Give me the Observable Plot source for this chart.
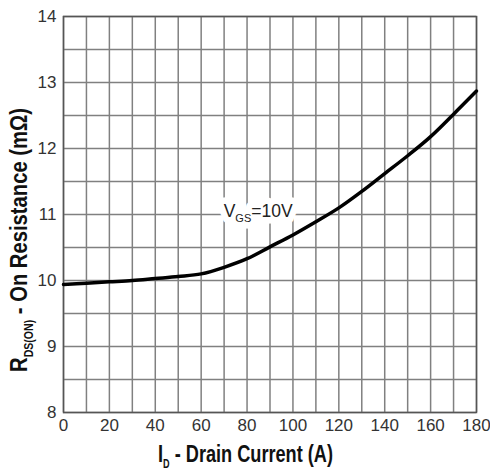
<!DOCTYPE html>
<html><head><meta charset="utf-8">
<script src="https://cdn.jsdelivr.net/npm/d3@7"></script>
<script src="https://cdn.jsdelivr.net/npm/@observablehq/plot@0.6"></script>
<style>
html,body{margin:0;padding:0;background:#fff;}
#chart svg{display:block;}
</style>
</head><body><div id="chart"></div>
<script>
// Drain current (A) and on-resistance (mΩ)
const current    = [0, 10, 20, 30, 40, 50, 60, 70, 80, 90, 100, 110, 120, 130, 140, 150, 160, 170, 180];
const resistance = [9.94, 9.96, 9.98, 10.0, 10.03, 10.06, 10.1, 10.2, 10.33, 10.51, 10.69, 10.89, 11.1, 11.35, 11.62, 11.89, 12.18, 12.52, 12.87];

const xTicks = [0, 20, 40, 60, 80, 100, 120, 140, 160, 180];
const yTicks = [8, 9, 10, 11, 12, 13, 14];
const xGrid  = [0, 10, 20, 30, 40, 50, 60, 70, 80, 90, 100, 110, 120, 130, 140, 150, 160, 170, 180];
const yGrid  = [8, 8.5, 9, 9.5, 10, 10.5, 11, 11.5, 12, 12.5, 13, 13.5, 14];

const labelX = [69.8];
const labelY = [11.05];
const labelText = ["VGS=10V"];

const xTitle = ["I", "D", " - Drain Current (A)"];
const yTitle = ["R", "DS(ON)", " - On Resistance (mΩ)"];

const FONT = "'Liberation Sans', Arial, Helvetica, sans-serif";

const chart = Plot.plot({
  width: 490,
  height: 472,
  marginLeft: 63,
  marginRight: 14,
  marginTop: 16,
  marginBottom: 60,
  style: {fontFamily: FONT, fontSize: "17px", color: "#333", background: "#fff"},
  x: {domain: [0, 180], label: null},
  y: {domain: [8, 14], label: null},
  marks: [
    Plot.gridX(xGrid, {stroke: "#808080", strokeOpacity: 1, strokeWidth: 1.5}),
    Plot.gridY(yGrid, {stroke: "#808080", strokeOpacity: 1, strokeWidth: 1.5}),
    Plot.frame({stroke: "#555", strokeWidth: 1.5}),
    Plot.axisX({ticks: xTicks, tickSize: 0, tickPadding: 6.5, label: null, fontSize: 17, tickFormat: d => String(d)}),
    Plot.axisY({ticks: yTicks, tickSize: 0, tickPadding: 7, label: null, fontSize: 17, tickFormat: d => String(d)}),
    Plot.line(resistance, {x: current, y: resistance, stroke: "#000", strokeWidth: 3.5, curve: "monotone-x"}),
    // white halo behind the curve label, then the label itself
    Plot.text(labelText, {x: labelX, y: labelY, text: d => d, textAnchor: "start", lineAnchor: "middle",
      fontSize: 17.5, fill: "white", stroke: "white", strokeWidth: 13}),
    Plot.text(labelText, {x: labelX, y: labelY, text: d => d, textAnchor: "start", lineAnchor: "middle",
      fontSize: 17.5, fill: "#222"})
  ]
});

document.getElementById("chart").appendChild(chart);
const svg = d3.select(chart);

// Subscript in the curve label (both halo and fill copies)
svg.selectAll('g[aria-label="text"] text').each(function() {
  const t = d3.select(this);
  t.text(null);
  t.append("tspan").text("V");
  t.append("tspan").attr("font-size", 11).attr("dy", 5).text("GS");
  t.append("tspan").attr("dy", -5).text("=10V");
});

function title(parts, transform, size, targetLen) {
  const g = svg.append("g");
  const t = g.append("text")
    .attr("text-anchor", "middle")
    .attr("font-family", FONT).attr("font-weight", "bold").attr("font-size", size)
    .attr("fill", "#111");
  t.append("tspan").text(parts[0]);
  t.append("tspan").attr("font-size", 12).attr("dy", 6).text(parts[1]);
  t.append("tspan").attr("dy", -6).text(parts[2]);
  const len = t.node().getComputedTextLength();
  const s = len > 0 ? targetLen / len : 1;
  g.attr("transform", transform + ` scale(${s},1)`);
}

title(xTitle, "translate(245.5,461.5)", 24, 175);
title(yTitle, "translate(26.5,240) rotate(-90)", 23, 264);
</script>
</body></html>
